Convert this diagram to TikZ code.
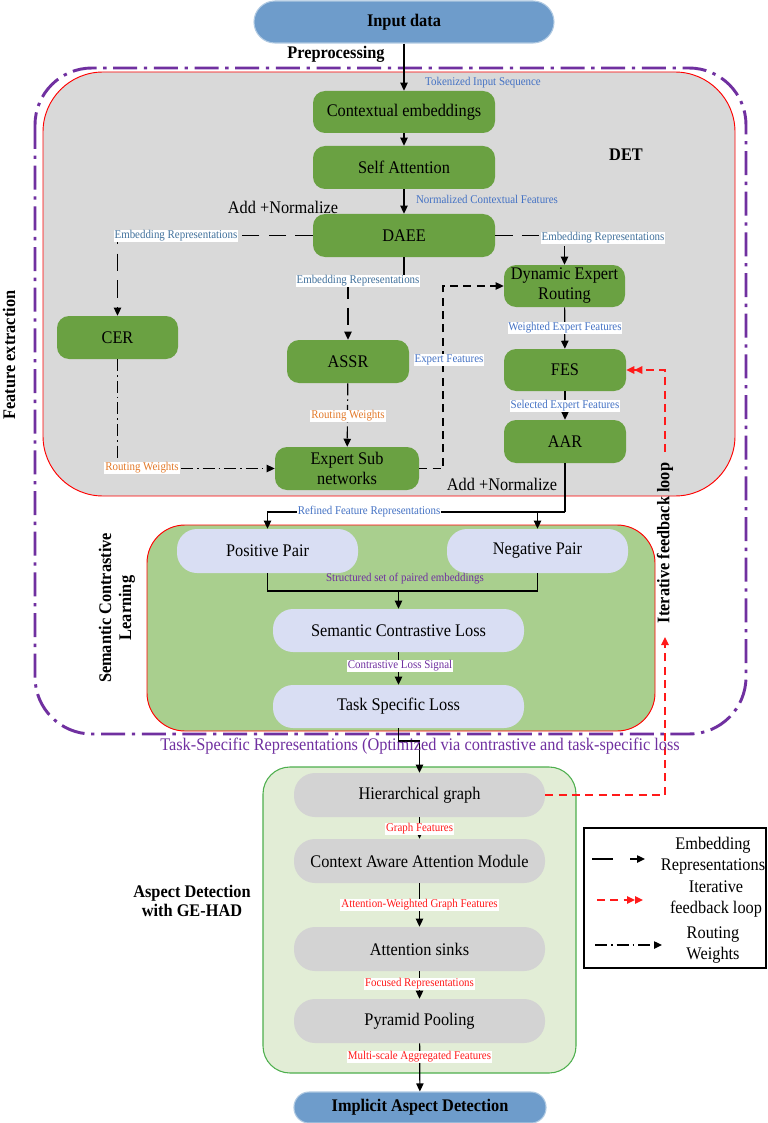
\documentclass[tikz,border=0pt]{standalone}
\usepackage{fontspec}
\setmainfont{Liberation Serif}[FakeStretch=0.92]
\usetikzlibrary{arrows.meta}
\newdimen\pxu \pxu=0.75pt
\newcommand\mainf{\fontsize{13.3}{15}\selectfont}
\newcommand\smallf{\fontsize{8.9}{10}\selectfont}
\definecolor{inblue}{HTML}{6E9CCB}
\definecolor{ggreen}{HTML}{6AA142}
\definecolor{detgray}{HTML}{D9D9D9}
\definecolor{sclgreen}{HTML}{A9CF8E}
\definecolor{lav}{HTML}{D9DEF3}
\definecolor{hadgreen}{HTML}{E2EDD6}
\definecolor{hadborder}{HTML}{4DAF4D}
\definecolor{pillgray}{HTML}{D3D3D3}
\definecolor{purp}{HTML}{7030A0}
\definecolor{lblue}{HTML}{4472C4}
\definecolor{sblue}{HTML}{41719C}
\definecolor{orng}{HTML}{E37A2A}
\definecolor{rred}{HTML}{FF1A1A}
\begin{document}
\begin{tikzpicture}[x=0.75pt,y=-0.75pt,
  base/.style={font=\mainf, align=center, inner sep=0pt, text=black},
  head/.style={font=\bfseries\mainf, align=center, inner sep=0pt, text=black},
  sz/.style 2 args={minimum width=#1*\pxu, minimum height=#2*\pxu},
  gbox/.style={base, fill=ggreen, rounded corners=12*\pxu},
  lbox/.style={base, fill=lav, rounded corners=20*\pxu},
  pbox/.style={base, fill=pillgray, rounded corners=21*\pxu},
  bbox/.style={head, fill=inblue, draw=inblue!55!white, line width=0.8pt},
  lab/.style={font=\smallf, inner sep=0.7pt},
  labw/.style={font=\smallf, inner sep=0.7pt, fill=white},
  conn/.style={draw=black, line width=0.9pt, -{Triangle[length=6pt,width=5.5pt]}},
  plain/.style={draw=black, line width=0.9pt},
  edash/.style={dash pattern=on 13pt off 7pt},
  sdash/.style={dash pattern=on 6pt off 4pt},
  rdash/.style={dash pattern=on 9pt off 3pt on 1.2pt off 3pt},
  fb/.style={draw=rred, line width=1.2pt, dash pattern=on 6pt off 4pt},
]
\useasboundingbox (0,0) rectangle (767,1123);
\fill[white] (0,0) rectangle (767,1123);

% regions
\draw[red, line width=0.7pt, fill=detgray, rounded corners=60*\pxu] (43,72) rectangle (735,496);
\draw[red, line width=0.7pt, fill=sclgreen, rounded corners=38*\pxu] (147,525) rectangle (655,731);
\draw[hadborder, line width=0.8pt, fill=hadgreen, rounded corners=27*\pxu] (263,767) rectangle (576,1073);
\draw[purp, line width=2.2pt, dash pattern=on 18pt off 5pt on 2.5pt off 5pt, rounded corners=57*\pxu] (35,68) rectangle (746,734);

% region titles
\node[head] (det) at (626,155) {DET};
\node[head, rotate=90] (fe) at (9,355) {Feature extraction};
\node[head, rotate=90, font=\bfseries\fontsize{13.3}{15}\selectfont] (sclt) at (117,608) {Semantic Contrastive\\Learning};
\node[head, font=\bfseries\fontsize{13.3}{14.5}\selectfont] (adt) at (192,901) {Aspect Detection\\with GE-HAD};
\node[head, rotate=90] (iflt) at (665,543) {Iterative feedback loop};

% main nodes
\node[bbox, sz={300}{42}, rounded corners=21*\pxu] (in) at (404,22) {Input data};
\node[head] (pre) at (336,54) {Preprocessing};
\node[gbox, sz={182}{42}] (ce) at (404,112) {Contextual embeddings};
\node[gbox, sz={182}{43}] (sa) at (404,167.5) {Self Attention};
\node[gbox, sz={182}{43}] (daee) at (404,235.5) {DAEE};
\node[gbox, sz={121}{43}] (cer) at (117.5,337.5) {CER};
\node[gbox, sz={122}{43}] (assr) at (348,361.5) {ASSR};
\node[gbox, sz={144}{43}] (esn) at (347,468.5) {Expert Sub\\networks};
\node[gbox, sz={121}{42}] (der) at (564.5,286) {Dynamic Expert\\Routing};
\node[gbox, sz={122}{42}] (fes) at (565,370) {FES};
\node[gbox, sz={122}{43}] (aar) at (565,441.5) {AAR};

\node[lbox, sz={181}{44}] (pos) at (267.5,551) {Positive Pair};
\node[lbox, sz={181}{44}] (neg) at (537.5,551) {Negative Pair};
\node[lbox, sz={251}{43}] (scl) at (398.5,630.5) {Semantic Contrastive Loss};
\node[lbox, sz={251}{43}] (tsl) at (398.5,706.5) {Task Specific Loss};

\node[pbox, sz={251}{44}] (hier) at (419.5,795) {Hierarchical graph};
\node[pbox, sz={251}{44}] (cam) at (419.5,861) {Context Aware Attention Module};
\node[pbox, sz={251}{44}] (sinks) at (419.5,949) {Attention sinks};
\node[pbox, sz={251}{44}] (pp) at (419.5,1021) {Pyramid Pooling};
\node[bbox, sz={252}{31}, rounded corners=15*\pxu] (iad) at (420,1107.5) {Implicit Aspect Detection};

% connectors
\draw[conn] (in) -- (ce);
\draw[conn] (ce) -- (sa);
\draw[conn] (sa) -- (daee);
\draw[conn, edash] (daee.west) -| (cer.north);
\draw[conn, edash] (daee.east) -| (der.north);
\draw[conn, edash] (daee.south) -- (404,281) -| (assr.north);
\draw[conn, rdash] (assr) -- (esn);
\draw[conn, rdash] (cer.south) |- (esn.west);
\draw[conn, sdash] (esn.east) -- (443,468.5) |- (der.west);
\draw[conn] (der) -- (fes);
\draw[conn] (fes) -- (aar);
\coordinate (split) at (565,512);
\draw[plain] (aar.south) -- (split);
\draw[conn] (split) -| (pos.north);
\draw[conn] (split) -| (neg.north);
\coordinate (merge) at (398.5,591);
\draw[plain] (pos.south) |- (merge) -| (neg.south);
\draw[conn] (merge) -- (scl.north);
\draw[conn] (scl) -- (tsl);
\draw[conn] (tsl.south) -- (398.5,741) -| (hier.north);
\draw[conn] (hier) -- (cam);
\draw[conn] (cam) -- (sinks);
\draw[conn] (sinks) -- (pp);
\draw[conn] (pp) -- (iad);
% feedback loop
\coordinate (fbtop) at (665,637);
\coordinate (fbstart) at (665,452);
\draw[fb, -{Triangle[length=6pt,width=5.5pt]}] (hier.east) -| (fbtop);
\draw[fb, -{Triangle[length=6pt,width=5.5pt] Triangle[length=6pt,width=5.5pt]}] (fbstart) |- (fes.east);

% labels
\node[lab, text=lblue] (ltok) at (483,83) {Tokenized Input Sequence};
\node[lab, text=lblue] (lncf) at (487,199) {Normalized Contextual Features};
\node[base] (an1) at (283,207) {Add +Normalize};
\node[labw, text=sblue] (ler1) at (176,236) {Embedding Representations};
\node[labw, text=sblue] (ler2) at (358,281) {Embedding Representations};
\node[labw, text=sblue] (ler3) at (603,238) {Embedding Representations};
\node[labw, text=lblue] (lef) at (449,360) {Expert Features};
\node[labw, text=lblue] (lwef) at (565,328) {Weighted Expert Features};
\node[labw, text=lblue] (lsef) at (565,406) {Selected Expert Features};
\node[labw, text=orng] (lrw1) at (348,416) {Routing Weights};
\node[labw, text=orng] (lrw2) at (142,468) {Routing Weights};
\node[base] (an2) at (502,484) {Add +Normalize};
\node[labw, text=lblue] (lrfr) at (369,512) {Refined Feature Representations};
\node[lab, text=purp] (lss) at (405,579) {Structured set of paired embeddings};
\node[labw, text=purp] (lcls) at (400,666) {Contrastive Loss Signal};
\node[base, text=purp] (ltsr) at (420,746) {Task-Specific Representations (Optimized via contrastive and task-specific loss};
\node[labw, text=rred] (lgf) at (419.5,829) {Graph Features};
\node[labw, text=rred] (lawg) at (419.5,905) {Attention-Weighted Graph Features};
\node[labw, text=rred] (lfr) at (419.5,984) {Focused Representations};
\node[labw, text=rred] (lmsa) at (419.5,1057) {Multi-scale Aggregated Features};

% legend
\draw[line width=0.8pt] (584,828) rectangle (766,968);
\draw[line width=1pt] (592,859) -- (613,859);
\draw[line width=1pt, -{Triangle[length=6pt,width=5.5pt]}] (630,859) -- (645,859);
\draw[fb, -{Triangle[length=6pt,width=5.5pt] Triangle[length=6pt,width=5.5pt]}] (597,900) -- (643,900);
\draw[line width=1pt, rdash, -{Triangle[length=6pt,width=5.5pt]}] (595,945) -- (662,945);
\node[base, font=\fontsize{13.3}{15.5}\selectfont] (lg1) at (713,856) {Embedding\\Representations};
\node[base, font=\fontsize{13.3}{15.5}\selectfont] (lg2) at (716,899) {Iterative\\feedback loop};
\node[base, font=\fontsize{13.3}{15.5}\selectfont] (lg3) at (713,945) {Routing\\Weights};
\end{tikzpicture}
\end{document}
